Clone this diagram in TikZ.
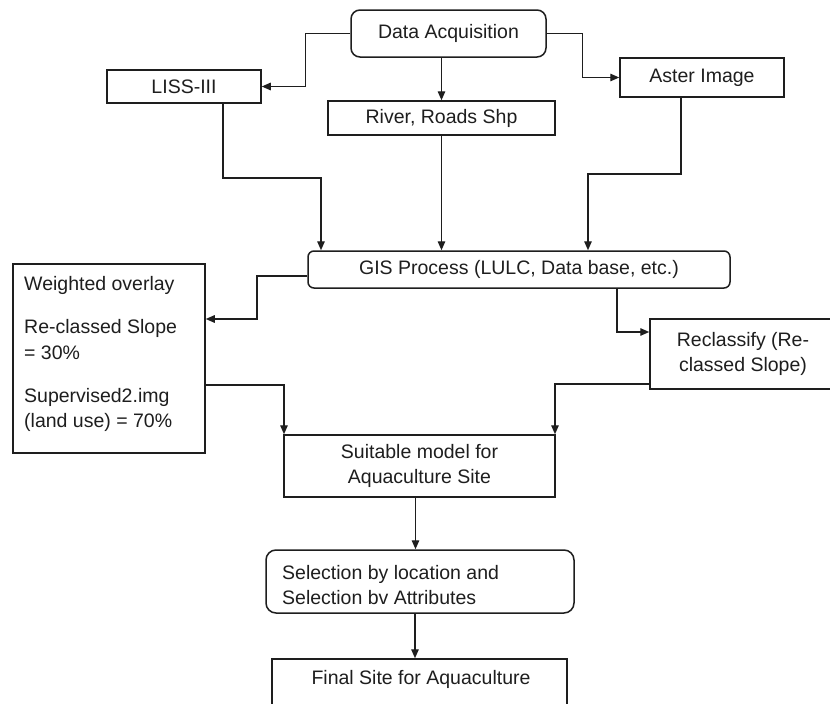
\documentclass[tikz,border=0pt]{standalone}
\usepackage{fontspec}
\setmainfont{Liberation Sans}
\usetikzlibrary{arrows.meta}
\definecolor{ink}{HTML}{1E1E1E}
\tikzset{
  box/.style={draw=ink, line width=1.5pt, rectangle, inner sep=0pt, text=ink,
    font=\fontsize{19.5}{25}\selectfont, align=center},
  rbox/.style={box, rounded corners=#1},
  txt/.style={inner sep=0pt, text=ink, font=\fontsize{19.5}{25}\selectfont},
  arr/.style={draw=ink, line width=1.4pt, -{Triangle[length=9pt,width=7.5pt]}}
}
\begin{document}
\begin{tikzpicture}[x=1pt,y=-1pt]
\useasboundingbox (0,0) rectangle (830,704);
\clip (0,0) rectangle (830,704);
\fill[white] (0,0) rectangle (830,704);

% boxes
\node[rbox=9pt, minimum width=195pt, minimum height=47pt] (da) at (448.5,33.5) {Data Acquisition};
\node[box, minimum width=154pt, minimum height=33pt] (liss) at (184,86.5) {LISS-III};
\node[box, minimum width=164pt, minimum height=39pt] (aster) at (702,77.5) {Aster Image};
\node[box, minimum width=227pt, minimum height=34pt] (river) at (441.5,118) {River, Roads Shp};
\node[rbox=6pt, minimum width=422pt, minimum height=37pt] (gis) at (519,269.5) {GIS Process (LULC, Data base, etc.)};
\node[box, minimum width=192pt, minimum height=189pt] (wo) at (109,358.5) {};
\node[box, minimum width=186pt, minimum height=70pt] (recl) at (743,354) {Reclassify (Re-\\classed Slope)};
\node[box, minimum width=271pt, minimum height=62pt] (suit) at (419.5,466) {Suitable model for\\Aquaculture Site};
\node[rbox=10pt, minimum width=308pt, minimum height=63pt] (sel) at (420,581.5) {};
\node[box, minimum width=295pt, minimum height=56pt] (fin) at (419.5,687) {};

% texts inside boxes
\node[txt, anchor=base west] (wo1) at (24,290) {Weighted overlay};
\node[txt, anchor=base west] (wo2) at (24,333) {Re-classed Slope};
\node[txt, anchor=base west] (wo3) at (24,359) {= 30\%};
\node[txt, anchor=base west] (wo4) at (24,402) {Supervised2.img};
\node[txt, anchor=base west] (wo5) at (24,427) {(land use) = 70\%};
\node[txt, anchor=base west] (sel1) at (282,579) {Selection by location and};
\node[txt, anchor=base west] (sel2) at (282,604) {Selection bv Attributes};
\node[txt, anchor=base] (fint) at (421,684) {Final Site for Aquaculture};

% junction coordinates
\coordinate (j1) at (321,178);
\coordinate (j2) at (588,174);
\coordinate (j3) at (257,319);
\coordinate (j4) at (617,332);
\coordinate (j5) at (284,385);
\coordinate (j6) at (555,384);

% connectors
\draw[arr] (da.west) -- ++(-45,0) |- (liss.east);
\draw[arr] (da.east) -- ++(36,0) |- (aster.west);
\draw[arr] (river.north |- da.south) -- (river.north);
\draw[arr] ([xshift=39pt]liss.south) |- (j1) -- (j1 |- gis.north);
\draw[arr] (river.south) -- (river.south |- gis.north);
\draw[arr] ([xshift=-21pt]aster.south) |- (j2) -- (j2 |- gis.north);
\draw[arr] ([yshift=-6.5pt]gis.west) -| (j3) -- (j3 -| wo.east);
\draw[arr] (j4 |- gis.south) -- (j4) -- (j4 -| recl.west);
\draw[arr] (j5 -| wo.east) -- (j5) -- (j5 |- suit.north);
\draw[arr] (j6 -| recl.west) -- (j6) -- (j6 |- suit.north);
\draw[arr] ([xshift=-4pt]suit.south) -- ([xshift=-4pt]suit.south |- sel.north);
\draw[arr] ([xshift=-5pt]sel.south) -- ([xshift=-5pt]sel.south |- fin.north);
\end{tikzpicture}
\end{document}
